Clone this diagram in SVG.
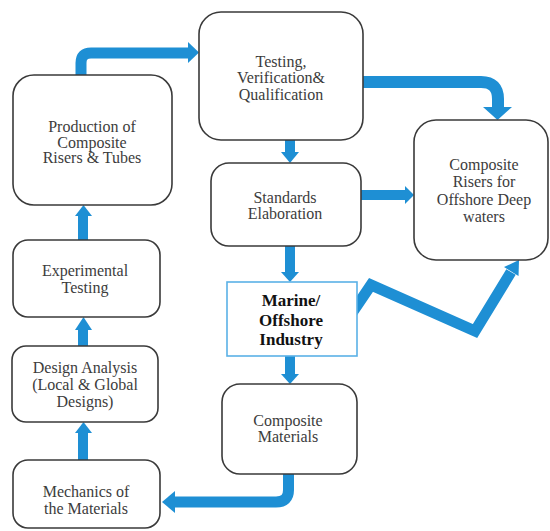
<svg xmlns="http://www.w3.org/2000/svg" width="550" height="531" viewBox="0 0 550 531">
<style>
.box{fill:#fff;stroke:#3a3a3a;stroke-width:1.6}
.mbox{fill:#fff;stroke:#5ab1e6;stroke-width:1.6}
.t{font-family:'Liberation Serif','DejaVu Serif',serif;font-size:16px;fill:#3c3c3c;text-anchor:middle}
.tb{font-family:'Liberation Serif','DejaVu Serif',serif;font-size:17px;font-weight:bold;fill:#111;text-anchor:middle}
.shaft{fill:none;stroke:#1e8fd4;stroke-linejoin:miter}
.head{fill:#1e8fd4}
</style>
<g id="connectors">
  <path class="shaft" stroke-width="11" d="M81,76 V63 Q81,53 91,53 H189"/>
  <polygon class="head" points="188,42 199,52.5 188,63"/>
  <path class="shaft" stroke-width="12" d="M362,82 H481 Q498,82 498,99 V108"/>
  <polygon class="head" points="483,107 512,107 497.5,120"/>
  <path class="shaft" stroke-width="10" d="M290,140 V153"/>
  <polygon class="head" points="281,152 299,152 290,163"/>
  <path class="shaft" stroke-width="10" d="M360,195 H406"/>
  <polygon class="head" points="405,186 414,195 405,204"/>
  <path class="shaft" stroke-width="10" d="M290,246 V273"/>
  <polygon class="head" points="281,272 299,272 290,282"/>
  <path class="shaft" stroke-width="10" d="M290,356 V375"/>
  <polygon class="head" points="281,374 299,374 290,384"/>
  <path class="shaft" stroke-width="11" d="M288.5,473 V490 Q288.5,502 276,502 H174"/>
  <polygon class="head" points="175,491 162,502 175,513"/>
  <path class="shaft" stroke-width="10" d="M83,461 V432"/>
  <polygon class="head" points="75,433 92,433 83.5,422"/>
  <path class="shaft" stroke-width="10" d="M83,347 V329"/>
  <polygon class="head" points="75,330 92,330 83.5,317"/>
  <path class="shaft" stroke-width="10" d="M83,241 V215"/>
  <polygon class="head" points="75,216 92,216 83.5,205"/>
  <polyline class="shaft" stroke-width="11" points="350,316 371,285 475,331 511,272"/>
  <polygon class="head" points="504,267 519,260 518.5,276"/>
</g>
<g id="production"><rect class="box" x="13" y="75" width="159" height="130" rx="21"/>
  <text class="t" x="92" y="132">Production of</text>
  <text class="t" x="92" y="147.5">Composite</text>
  <text class="t" x="92" y="163">Risers &amp; Tubes</text></g>
<g id="testing"><rect class="box" x="199" y="12" width="164" height="128" rx="22"/>
  <text class="t" x="281" y="67">Testing,</text>
  <text class="t" x="281" y="83">Verification&amp;</text>
  <text class="t" x="281" y="100">Qualification</text></g>
<g id="standards"><rect class="box" x="211" y="163" width="150" height="83" rx="18"/>
  <text class="t" x="285" y="203">Standards</text>
  <text class="t" x="285" y="219">Elaboration</text></g>
<g id="risers"><rect class="box" x="414" y="120" width="134" height="140" rx="22"/>
  <text class="t" x="484" y="170">Composite</text>
  <text class="t" x="484" y="187">Risers for</text>
  <text class="t" x="484" y="205">Offshore Deep</text>
  <text class="t" x="484" y="222">waters</text></g>
<g id="marine"><rect class="mbox" x="227" y="282" width="130" height="74"/>
  <text class="tb" x="291" y="306">Marine/</text>
  <text class="tb" x="291" y="326">Offshore</text>
  <text class="tb" x="291" y="345">Industry</text></g>
<g id="materials"><rect class="box" x="222" y="384" width="135" height="90" rx="18"/>
  <text class="t" x="288" y="426">Composite</text>
  <text class="t" x="288" y="442">Materials</text></g>
<g id="experimental"><rect class="box" x="13" y="240" width="147" height="77" rx="15"/>
  <text class="t" x="85" y="276">Experimental</text>
  <text class="t" x="85" y="293">Testing</text></g>
<g id="design"><rect class="box" x="12" y="346" width="146" height="76" rx="14"/>
  <text class="t" x="85" y="373">Design Analysis</text>
  <text class="t" x="85" y="390">(Local &amp; Global</text>
  <text class="t" x="85" y="407">Designs)</text></g>
<g id="mechanics"><rect class="box" x="13" y="460" width="147" height="68" rx="15"/>
  <text class="t" x="86" y="497">Mechanics of</text>
  <text class="t" x="86" y="514">the Materials</text></g>
</svg>
